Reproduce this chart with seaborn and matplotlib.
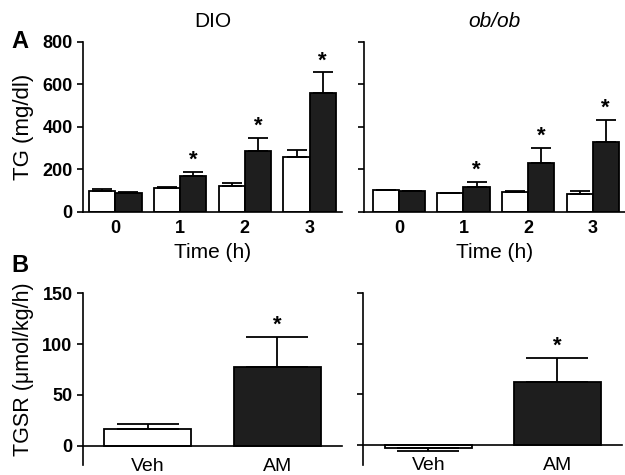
import matplotlib
matplotlib.use("Agg")
import matplotlib.pyplot as plt
import pandas as pd
import seaborn as sns

# Panel A: plasma TG over time (mg/dl), vehicle (white) vs AM (black)
times = ["0", "1", "2", "3"]
dio_veh = [97, 111, 124, 260]
dio_veh_err = [10, 8, 14, 33]
dio_am = [88, 169, 287, 560]
dio_am_err = [5, 21, 60, 97]
ob_veh = [102, 88, 94, 85]
ob_veh_err = [3, 2, 4, 12]
ob_am = [97, 118, 232, 329]
ob_am_err = [4, 25, 71, 104]
am_star_a = [False, True, True, True]

# Panel B: TG secretion rate (umol/kg/h)
groups = ["Veh", "AM"]
dio_tgsr = [16, 77]
dio_tgsr_err = [5, 30]
ob_tgsr = [-3.5, 62]
ob_tgsr_err = [-2.5, 24]
star_b = [False, True]

WHITE = "white"
BLACK = "#1e1e1e"

sns.set_style("ticks")
plt.rcParams["font.family"] = ["Liberation Sans", "DejaVu Sans"]
plt.rcParams["axes.linewidth"] = 1.2
plt.rcParams["axes.edgecolor"] = "black"
plt.rcParams["axes.labelcolor"] = "black"
plt.rcParams["text.color"] = "black"
plt.rcParams["xtick.color"] = "black"
plt.rcParams["ytick.color"] = "black"


def time_frame(veh, am):
    return pd.DataFrame(
        {
            "time": times * 2,
            "value": veh + am,
            "group": ["Veh"] * len(times) + ["AM"] * len(times),
        }
    )


def draw_time_panel(ax, veh, veh_err, am, am_err, show_labels):
    df = time_frame(veh, am)
    sns.barplot(
        data=df,
        x="time",
        y="value",
        hue="group",
        hue_order=["Veh", "AM"],
        palette={"Veh": WHITE, "AM": BLACK},
        edgecolor="black",
        linewidth=1.3,
        width=0.81,
        errorbar=None,
        legend=False,
        ax=ax,
    )
    n = len(times)
    bars = ax.patches
    errs = veh_err + am_err
    for i, bar in enumerate(bars[: 2 * n]):
        x = bar.get_x() + bar.get_width() / 2
        top = bar.get_height()
        ax.errorbar(
            x, top, yerr=[[0], [errs[i]]], fmt="none", ecolor="black",
            elinewidth=1.3, capsize=7, capthick=1.3, zorder=1,
        )
        if i >= n and am_star_a[i - n]:
            ax.text(x, top + errs[i] + 5, "*", ha="center", va="bottom",
                    fontsize=16, fontweight="bold")
    ax.set_ylim(0, 800)
    ax.set_yticks([0, 200, 400, 600, 800])
    ax.set_xlabel("Time (h)", fontsize=15, labelpad=4)
    ax.tick_params(axis="x", length=0, labelsize=13, pad=6)
    ax.tick_params(axis="y", length=4, width=1.2, labelsize=13)
    for lab in ax.get_xticklabels():
        lab.set_fontweight("bold")
    if show_labels:
        ax.set_ylabel("TG (mg/dl)", fontsize=16)
        ax.yaxis.set_label_coords(-0.19, 0.5)
        for lab in ax.get_yticklabels():
            lab.set_fontweight("bold")
    else:
        ax.set_ylabel("")
        ax.set_yticklabels([])
    sns.despine(ax=ax)


def draw_rate_panel(ax, vals, errs, show_labels, ylow):
    df = pd.DataFrame({"group": groups, "value": vals})
    sns.barplot(
        data=df,
        x="group",
        y="value",
        hue="group",
        palette={"Veh": WHITE, "AM": BLACK},
        edgecolor="black",
        linewidth=1.3,
        width=0.67,
        errorbar=None,
        legend=False,
        ax=ax,
    )
    for i, bar in enumerate(ax.patches[: len(groups)]):
        x = bar.get_x() + bar.get_width() / 2
        top = vals[i]
        e = errs[i]
        yerr = [[0], [e]] if e >= 0 else [[-e], [0]]
        ax.errorbar(
            x, top, yerr=yerr, fmt="none", ecolor="black",
            elinewidth=1.3, capsize=22, capthick=1.3, zorder=1,
        )
        if star_b[i]:
            ax.text(x, top + e + 1, "*", ha="center", va="bottom",
                    fontsize=16, fontweight="bold")
    ax.set_ylim(ylow, 150)
    ax.set_yticks([0, 50, 100, 150])
    ax.set_xlim(-0.5, 1.5)
    ax.spines["bottom"].set_position(("data", 0))
    ax.set_xlabel("")
    ax.tick_params(axis="x", length=0, labelsize=14, pad=9)
    ax.tick_params(axis="y", length=4, width=1.2, labelsize=13)
    if show_labels:
        ax.set_ylabel("TGSR (\u03bcmol/kg/h)", fontsize=15.5)
        ax.yaxis.set_label_coords(-0.19, 0.56)
        for lab in ax.get_yticklabels():
            lab.set_fontweight("bold")
    else:
        ax.set_ylabel("")
        ax.set_yticklabels([])
    sns.despine(ax=ax)


fig = plt.figure(figsize=(6.25, 4.75), dpi=100)

ax1 = fig.add_axes([0.1328, 0.5537, 0.4144, 0.3579])
draw_time_panel(ax1, dio_veh, dio_veh_err, dio_am, dio_am_err, True)
ax1.set_xlim(-0.5, 3.5)
ax1.set_title("DIO", fontsize=15, pad=11)

ax2 = fig.add_axes([0.5824, 0.5537, 0.4176, 0.3579])
draw_time_panel(ax2, ob_veh, ob_veh_err, ob_am, ob_am_err, False)
ax2.set_xlim(-0.54, 3.5)
ax2.set_title("ob/ob", fontsize=15, pad=11, style="italic")

ax3 = fig.add_axes([0.1328, 0.0211, 0.4144, 0.3615])
draw_rate_panel(ax3, dio_tgsr, dio_tgsr_err, True, -19)

ax4 = fig.add_axes([0.5803, 0.0211, 0.4149, 0.3615])
draw_rate_panel(ax4, ob_tgsr, ob_tgsr_err, False, -20)
ax4.set_xlim(-0.51, 1.5)

fig.text(0.018, 1 - 42 / 475, "A", fontsize=17, fontweight="bold", va="center")
fig.text(0.018, 1 - 266 / 475, "B", fontsize=17, fontweight="bold", va="center")

fig.savefig("out.png", dpi=100)
